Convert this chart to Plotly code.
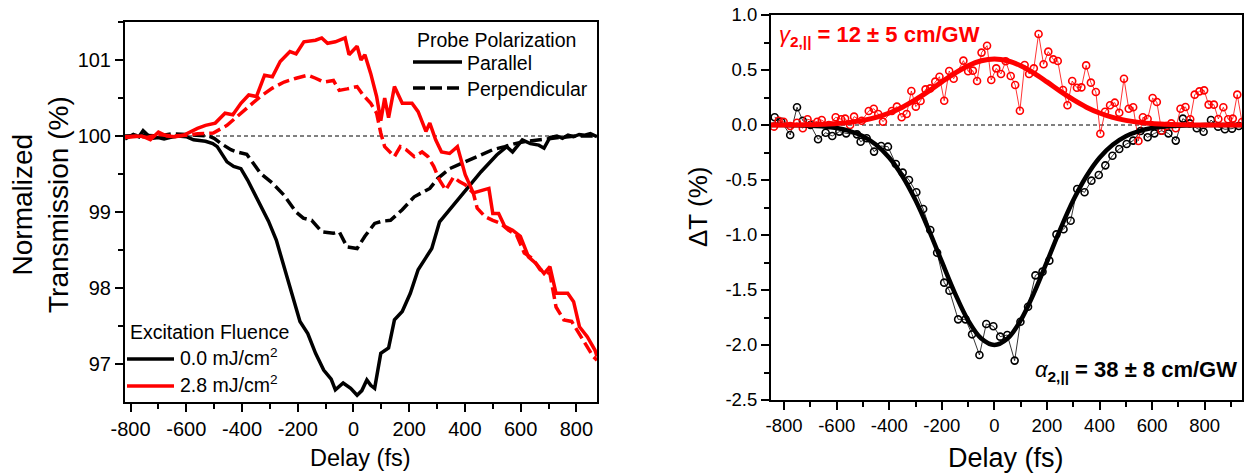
import plotly.graph_objects as go

W, H = 1247, 473
FONT = "Liberation Sans, Arial, sans-serif"

# ---------------- left panel: normalized transmission ----------------
par0_x = [-820, -800, -790, -770, -755, -735, -720, -700, -680, -660, -630, -600, -574, -531,
          -505, -489, -470, -454, -430, -404, -380, -362, -334, -305, -277, -249, -220, -192,
          -164, -136, -107, -80, -65, -37, -10, 13, 30, 48, 62, 76, 98, 126, 147, 175, 204,
          232, 260, 281, 309, 345, 401, 458, 514, 550, 571, 606, 635, 665, 684, 705, 730,
          750, 770, 790, 810, 830, 850, 874]
par0_y = [99.96, 100.0, 100.02, 99.99, 100.07, 100.0, 99.97, 99.98, 99.96, 99.98, 100.0, 99.99,
          99.95, 99.93, 99.90, 99.86, 99.75, 99.66, 99.60, 99.57, 99.42, 99.29, 99.11, 98.88,
          98.63, 98.28, 97.93, 97.56, 97.40, 97.14, 96.92, 96.80, 96.66, 96.75, 96.68, 96.59,
          96.65, 96.79, 96.72, 96.68, 97.14, 97.21, 97.58, 97.69, 97.93, 98.24, 98.40, 98.52,
          98.87, 99.03, 99.29, 99.53, 99.75, 99.86, 99.79, 99.95, 99.90, 99.88, 99.84, 99.98,
          100.0, 99.97, 100.01, 99.99, 100.02, 100.01, 100.03, 99.99]

perp0_x = [-820, -760, -700, -650, -600, -560, -520, -500, -475, -440, -418, -383, -360, -334,
           -291, -249, -206, -180, -150, -114, -72, -51, -23, 13, 41, 76, 105, 133, 175, 218,
           274, 302, 345, 401, 444, 500, 543, 580, 620, 680, 740, 800, 874]
perp0_y = [100.0, 100.01, 100.0, 100.03, 100.02, 100.01, 100.0, 99.97, 99.90, 99.82, 99.79,
           99.76, 99.65, 99.51, 99.38, 99.22, 99.00, 98.92, 98.89, 98.74, 98.72, 98.74, 98.54,
           98.52, 98.68, 98.85, 98.88, 98.89, 99.03, 99.20, 99.31, 99.44, 99.57, 99.66, 99.73,
           99.82, 99.86, 99.90, 99.93, 99.96, 99.98, 100.0, 100.0]

par28_x = [-820, -790, -760, -729, -700, -670, -640, -610, -588, -560, -531, -496, -461, -433,
           -404, -376, -348, -319, -291, -263, -228, -206, -178, -136, -114, -93, -65, -30, -16,
           13, 27, 41, 62, 83, 98, 112, 126, 147, 175, 210, 232, 260, 274, 295, 316, 345, 373,
           401, 430, 451, 486, 500, 521, 543, 571, 599, 628, 656, 684, 705, 727, 769, 790, 811,
           839, 867, 874]
par28_y = [99.98, 99.99, 100.0, 99.95, 100.05, 100.0, 99.99, 100.01, 100.05, 100.10, 100.14,
           100.17, 100.30, 100.28, 100.43, 100.54, 100.52, 100.80, 100.78, 100.98, 101.11, 101.08,
           101.24, 101.26, 101.29, 101.22, 101.24, 101.29, 101.07, 101.18, 101.00, 101.07, 100.82,
           100.52, 100.20, 100.50, 100.24, 100.65, 100.43, 100.43, 100.32, 100.06, 100.17, 99.95,
           99.79, 99.77, 99.86, 99.49, 99.25, 99.27, 99.31, 98.98, 98.98, 98.81, 98.76, 98.68,
           98.41, 98.32, 98.19, 98.28, 97.93, 97.93, 97.82, 97.49, 97.36, 97.18, 97.10]

perp28_x = [-820, -780, -740, -700, -650, -600, -560, -503, -454, -404, -362, -334, -291, -249,
            -206, -164, -136, -107, -72, -51, -23, 13, 34, 62, 83, 98, 112, 133, 147, 168, 189,
            218, 246, 267, 288, 309, 331, 359, 380, 401, 430, 444, 472, 500, 528, 557, 585, 613,
            642, 670, 705, 727, 755, 783, 811, 839, 860, 874]
perp28_y = [99.99, 100.0, 99.98, 100.02, 100.0, 100.01, 100.03, 100.04, 100.14, 100.30, 100.43,
            100.52, 100.63, 100.71, 100.76, 100.80, 100.76, 100.71, 100.73, 100.60, 100.62, 100.65,
            100.54, 100.43, 100.30, 100.04, 99.86, 99.79, 99.73, 99.86, 99.82, 99.73, 99.79, 99.73,
            99.60, 99.42, 99.29, 99.46, 99.40, 99.36, 99.25, 99.05, 98.94, 98.89, 98.85, 98.76,
            98.70, 98.46, 98.39, 98.24, 98.19, 97.75, 97.58, 97.56, 97.40, 97.23, 97.10, 97.05]

# ---------------- right panel: transmission change ----------------
red_x = [-839, -821, -802, -777, -751, -729, -711, -674, -657, -630, -604, -583, -568, -549,
         -534, -505, -478, -459, -442, -424, -390, -371, -353, -334, -316, -299, -281, -262,
         -244, -225, -209, -191, -172, -155, -118, -100, -82, -66, -49, -28, -12, 7, 25, 43,
         62, 79, 97, 115, 132, 150, 168, 187, 205, 224, 241, 261, 278, 296, 314, 331, 349, 367,
         386, 403, 421, 440, 458, 475, 493, 511, 528, 548, 565, 583, 602, 618, 636, 655, 673,
         690, 708, 727, 745, 762, 780, 798, 815, 835, 852, 871, 889, 907, 924, 942]
red_y = [-0.015, 0.039, 0.030, -0.009, 0.021, -0.030, 0.052, 0.030, 0.045, 0.0, 0.070, 0.052,
         0.058, 0.0, 0.076, 0.039, 0.127, 0.148, 0.10, 0.030, 0.127, 0.167, 0.070, 0.10, 0.309,
         0.167, 0.218, 0.324, 0.333, 0.394, 0.439, 0.221, 0.491, 0.421, 0.585, 0.488, 0.494,
         0.40, 0.658, 0.721, 0.409, 0.515, 0.464, 0.579, 0.445, 0.364, 0.130, 0.545, 0.464,
         0.515, 0.827, 0.552, 0.667, 0.597, 0.582, 0.318, 0.179, 0.40, 0.339, 0.342, 0.542,
         0.385, 0.30, -0.079, 0.121, 0.179, 0.203, 0.112, 0.421, 0.148, 0.161, -0.145, 0.070,
         0.055, 0.245, 0.209, -0.052, -0.009, 0.015, -0.030, 0.148, 0.164, 0.052, 0.276, 0.306,
         0.315, 0.185, 0.185, 0.055, 0.161, 0.052, 0.058, 0.276, 0.027]

blk_x = [-836, -811, -777, -751, -729, -700, -671, -642, -617, -590, -564, -523, -509, -486,
         -458, -431, -405, -375, -349, -325, -297, -271, -244, -218, -191, -171, -138, -110,
         -85, -57, -31, -4, 22, 49, 77, 99, 128, 156, 183, 209, 236, 263, 290, 315, 343, 369,
         397, 422, 449, 475, 503, 528, 556, 583, 609, 636, 662, 690, 717, 743, 770, 796, 824,
         851, 877, 904, 930]
blk_y = [0.070, 0.030, -0.091, 0.161, 0.039, 0.0, -0.130, -0.070, -0.10, -0.06, -0.076, -0.085,
         -0.152, -0.121, -0.242, -0.191, -0.197, -0.355, -0.433, -0.50, -0.612, -0.764, -0.955,
         -1.161, -1.433, -1.506, -1.767, -1.767, -1.903, -2.091, -1.809, -1.830, -1.924, -1.909,
         -2.142, -1.788, -1.652, -1.367, -1.333, -1.233, -0.994, -0.948, -0.870, -0.582, -0.612,
         -0.506, -0.455, -0.367, -0.279, -0.218, -0.173, -0.142, -0.055, -0.112, -0.076, -0.052,
         -0.076, -0.142, 0.058, 0.015, -0.030, -0.061, 0.045, -0.015, -0.039, -0.033, -0.009]

fit_x = [-850, -800, -750, -700, -650, -600, -550, -500, -450, -400, -350, -300, -250, -200,
         -150, -100, -50, 0, 50, 100, 150, 200, 250, 300, 350, 400, 450, 500, 550, 600, 650,
         700, 750, 800, 850, 900, 942]
fit_red = [0.0, 0.0, 0.001, 0.003, 0.007, 0.013, 0.024, 0.042, 0.069, 0.109, 0.162, 0.230,
           0.308, 0.392, 0.472, 0.539, 0.584, 0.600, 0.584, 0.539, 0.472, 0.392, 0.308, 0.230,
           0.162, 0.109, 0.069, 0.042, 0.024, 0.013, 0.007, 0.003, 0.001, 0.0, 0.0, 0.0, 0.0]
fit_blk = [0.0, -0.001, -0.002, -0.006, -0.013, -0.028, -0.055, -0.102, -0.180, -0.298, -0.466,
           -0.685, -0.951, -1.243, -1.530, -1.776, -1.941, -2.0, -1.941, -1.776, -1.530, -1.243,
           -0.951, -0.685, -0.466, -0.298, -0.180, -0.102, -0.055, -0.028, -0.013, -0.006,
           -0.002, -0.001, 0.0, 0.0, 0.0]

delay_ticks = [-800, -600, -400, -200, 0, 200, 400, 600, 800]
delay_labels = ["-800", "-600", "-400", "-200", "0", "200", "400", "600", "800"]
nt_ticks = [97, 98, 99, 100, 101]
dt_ticks = [-2.5, -2.0, -1.5, -1.0, -0.5, 0.0, 0.5, 1.0]
dt_labels = ["-2.5", "-2.0", "-1.5", "-1.0", "-0.5", "0.0", "0.5", "1.0"]

RED = "#ff0000"
BLK = "#000000"


def px(x):
    return x / W


def py(y):
    return 1 - y / H


fig = go.Figure()

# left panel curves
fig.add_trace(go.Scatter(x=perp0_x, y=perp0_y, mode="lines", xaxis="x", yaxis="y",
                         line=dict(color=BLK, width=3.5, dash="12px,5px")))
fig.add_trace(go.Scatter(x=par0_x, y=par0_y, mode="lines", xaxis="x", yaxis="y",
                         line=dict(color=BLK, width=3.5)))
fig.add_trace(go.Scatter(x=perp28_x, y=perp28_y, mode="lines", xaxis="x", yaxis="y",
                         line=dict(color=RED, width=3.5, dash="12px,5px")))
fig.add_trace(go.Scatter(x=par28_x, y=par28_y, mode="lines", xaxis="x", yaxis="y",
                         line=dict(color=RED, width=3.5)))

# right panel: measured points and fits
fig.add_trace(go.Scatter(x=blk_x, y=blk_y, mode="lines+markers", xaxis="x2", yaxis="y2",
                         line=dict(color=BLK, width=0.8),
                         marker=dict(symbol="circle-open", size=7, color=BLK,
                                     line=dict(width=1.6, color=BLK))))
fig.add_trace(go.Scatter(x=red_x, y=red_y, mode="lines+markers", xaxis="x2", yaxis="y2",
                         line=dict(color=RED, width=0.8),
                         marker=dict(symbol="circle-open", size=7, color=RED,
                                     line=dict(width=1.6, color=RED))))
fig.add_trace(go.Scatter(x=fit_x, y=fit_blk, mode="lines", xaxis="x2", yaxis="y2",
                         line=dict(color=BLK, width=4.5, shape="spline")))
fig.add_trace(go.Scatter(x=fit_x, y=fit_red, mode="lines", xaxis="x2", yaxis="y2",
                         line=dict(color=RED, width=5, shape="spline")))

axis_common = dict(showline=True, linewidth=2, linecolor=BLK, mirror=True, showgrid=False,
                   zeroline=False, ticks="outside", ticklen=8, tickwidth=2, tickcolor=BLK,
                   automargin=False)


def minor(vals):
    return dict(tickvals=vals, ticks="outside", ticklen=5, tickwidth=2, tickcolor=BLK)


fig.update_layout(
    width=W, height=H, margin=dict(l=0, r=0, t=0, b=0, pad=0),
    paper_bgcolor="white", plot_bgcolor="white", showlegend=False,
    font=dict(family=FONT, color=BLK),
    xaxis=dict(domain=[px(125), px(597)], range=[-820, 874], anchor="y",
               tickvals=delay_ticks, ticktext=delay_labels, tickfont=dict(size=20),
               minor=minor([-700, -500, -300, -100, 100, 300, 500, 700]),
               **axis_common),
    yaxis=dict(domain=[py(402), py(22)], range=[96.5, 101.5], anchor="x",
               tickvals=nt_ticks, ticktext=[str(v) for v in nt_ticks], tickfont=dict(size=20),
               minor=minor([97.5, 98.5, 99.5, 100.5, 101.5]),
               **axis_common),
    xaxis2=dict(domain=[px(771), px(1242)], range=[-850, 942], anchor="y2",
                tickvals=delay_ticks, ticktext=delay_labels, tickfont=dict(size=18.5),
                minor=minor([-700, -500, -300, -100, 100, 300, 500, 700, 900]),
                **axis_common),
    yaxis2=dict(domain=[py(400), py(15)], range=[-2.5, 1.0], anchor="x2",
                tickvals=dt_ticks, ticktext=dt_labels, tickfont=dict(size=18.5),
                minor=minor([-2.25, -1.75, -1.25, -0.75, -0.25, 0.25, 0.75]),
                **axis_common),
)

shapes = [
    # reference lines
    dict(type="line", xref="x domain", yref="y", x0=0, x1=1, y0=100, y1=100,
         line=dict(color=BLK, width=1, dash="4px,3px"), layer="below"),
    dict(type="line", xref="x2 domain", yref="y2", x0=0, x1=1, y0=0, y1=0,
         line=dict(color=BLK, width=1, dash="4px,3px"), layer="below"),
    # legend keys
    dict(type="line", xref="paper", yref="paper", x0=px(413), x1=px(462), y0=py(62), y1=py(62),
         line=dict(color=BLK, width=3.5)),
    dict(type="line", xref="paper", yref="paper", x0=px(413), x1=px(462), y0=py(88), y1=py(88),
         line=dict(color=BLK, width=3.5, dash="12px,5px")),
    dict(type="line", xref="paper", yref="paper", x0=px(127), x1=px(174), y0=py(359), y1=py(359),
         line=dict(color=BLK, width=3.5)),
    dict(type="line", xref="paper", yref="paper", x0=px(127), x1=px(174), y0=py(386), y1=py(386),
         line=dict(color=RED, width=3.5)),
]
fig.update_layout(shapes=shapes)


def note(text, x, y, size, color=BLK, xanchor="left", yanchor="middle", angle=0):
    fig.add_annotation(text=text, x=px(x), y=py(y), xref="paper", yref="paper",
                       xanchor=xanchor, yanchor=yanchor, showarrow=False, textangle=angle,
                       font=dict(family=FONT, size=size, color=color))


note("Probe Polarization", 415, 40, 19.5)
note("Parallel", 465, 63, 19.5)
note("Perpendicular", 465, 89, 19.5)
note("Excitation Fluence", 128, 332, 19.5)
note("0.0 mJ/cm<sup>2</sup>", 178, 357, 19.5)
note("2.8 mJ/cm<sup>2</sup>", 178, 384, 19.5)

# axis titles
note("Normalized<br>Transmission (%)", 40, 205, 28, xanchor="center", angle=-90)
note("Delay (fs)", 360, 458, 23.5, xanchor="center")
note("ΔT (%)", 698, 207, 26, xanchor="center", angle=-90)
note("Delay (fs)", 1006, 458, 27, xanchor="center")

# fitted coefficients
note("<i>γ</i><sub><b>2,||</b></sub><b> = 12 ± 5 cm/GW</b>", 777, 36, 22, color=RED)
note("<i>α</i><sub><b>2,||</b></sub><b> = 38 ± 8 cm/GW</b>", 1239, 371, 22, xanchor="right")

fig.write_html("out.html")
